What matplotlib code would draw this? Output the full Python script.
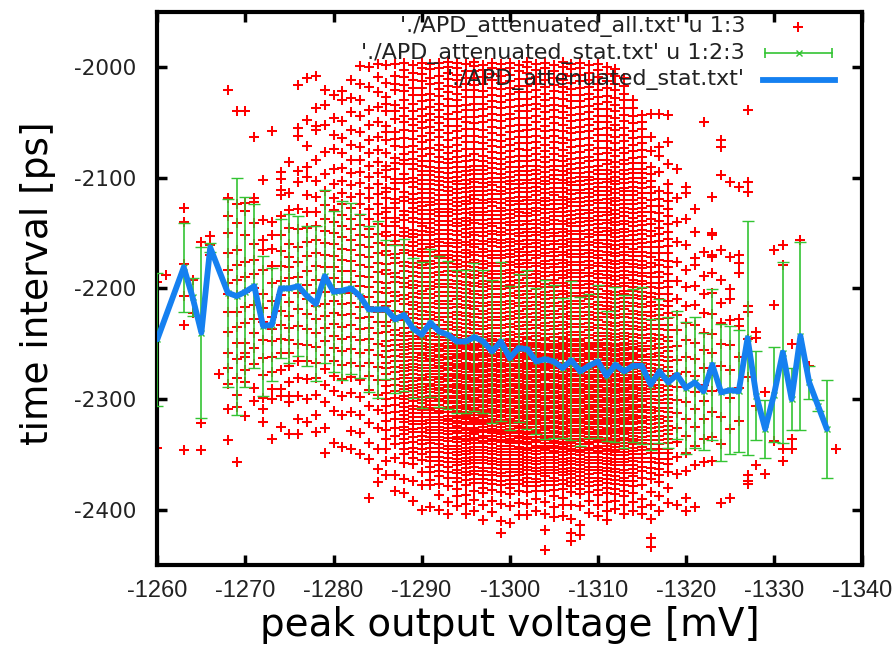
import matplotlib
matplotlib.use('Agg')
import matplotlib.pyplot as plt
from matplotlib.lines import Line2D

# ---------------- data ----------------
# red '+' cloud: one entry per 1 mV column (x = -1260 ... -1337);
# each string lists the points of that column as depth below -2000 ps
all_x = list(range(-1260, -1338, -1))
all_depth = [
    "194 344",                                   # -1260
    "188",                                       # -1261
    "",                                          # -1262
    "127 140 178 207 233 346",                   # -1263
    "192 222",                                   # -1264
    "158 322 346",                               # -1265
    "153 161 170",                               # -1266
    "277",                                       # -1267
    "21 118 135 150 168 183 195 205 221 239 258 272 286 309 337",
    "40 124 141 165 179 192 206 221 235 249 264 281 296 307 357",
    "40 123 130 152 176 190 203 217 231 249 258 262 274 285 315",
    "63 118 122 141 160 174 187 200 215 228 240 254 268 290 302",
    "102 138 156 165 183 205 218 230 247 263 278 299 309 321",
    "58 140 152 164 180 195 211 226 237 248 262 276 291 300 336",
    "95 101 111 116 135 152 166 180 193 206 220 233 246 258 274 291 297 325",
    "86 114 129 145 160 172 181 191 200 212 225 236 247 258 270 285 297 303 332",
    "16 55 62 94 104 128 146 163 176 190 204 219 234 250 266 281 297 318 332",
    "10 48 71 90 99 116 131 145 158 171 184 197 210 223 237 251 266 282 300 321",
    "8 37 53 57 84 103 117 131 144 156 168 180 192 204 216 228 240 253 267 281 296 314 330",
    "21 34 52 77 97 112 125 137 148 159 170 181 192 203 214 225 236 248 260 273 287 303 326 349",
    "25 46 61 74 92 106 118 129 140 150 160 171 181 191 201 211 222 232 243 254 266 279 293 311 340",
    "22 30 49 64 78 91 103 114 124 134 144 154 164 174 184 194 204 214 224 235 246 257 269 282 297 314 343",
    "12 28 41 57 70 84 96 107 117 127 137 146 156 165 175 184 194 204 213 223 233 244 255 267 280 295 312 329 345",
    "-1 15 30 44 59 72 84 95 105 115 124 134 143 152 161 170 179 189 198 207 217 227 237 247 258 270 283 298 314 331 350",
    "0 18 39 52 66 78 89 99 109 118 128 137 146 154 163 172 181 190 199 208 217 226 236 246 256 267 279 292 306 322 340 354 389",
    "-3 9 23 36 50 63 75 86 96 106 115 124 133 142 151 159 168 177 185 194 203 212 221 230 240 250 260 271 283 296 310 326 345 363 375",
    "-2 14 27 40 53 66 78 89 99 109 118 127 136 144 153 161 170 178 187 195 204 212 221 230 239 248 257 267 277 288 300 313 328 345 369",
    "-3 8 21 34 47 59 71 82 92 101 110 119 127 136 144 152 161 169 177 186 194 203 211 220 229 238 247 256 266 276 287 299 312 326 341 369 383",
    # -1288
    "-4 9 22 37 50 64 79 88 97 105 113 121 130 138 145 153 161 168 176 184 191 199 206 214 221 229 236 243 250 256 262 269 275 281 288 294 300 307 314 321 328 336 345 358 372 385",
    "-2 12 25 33 47 58 71 83 92 100 108 115 123 131 140 147 154 162 170 177 185 193 200 208 215 223 231 239 246 252 258 265 271 277 284 290 296 302 309 316 323 330 339 348 359 374 392",
    "-4 6 19 31 44 55 68 80 89 98 106 114 122 129 137 144 152 160 167 175 182 190 198 205 213 220 228 236 244 249 255 260 266 272 278 283 289 295 301 307 313 320 326 333 341 350 366 378 400",
    "-3 10 24 36 48 60 73 85 94 102 110 118 125 133 141 149 156 163 171 178 186 194 201 209 217 224 232 240 247 253 258 264 269 275 280 286 291 297 302 308 313 319 325 331 337 344 352 361 373 378 398",
    "-4 8 20 33 45 57 70 81 91 99 107 116 124 131 139 147 155 162 170 177 185 192 199 207 214 222 229 237 244 250 255 260 265 270 275 280 285 290 295 300 305 311 316 322 328 334 341 348 356 365 377 387 400",
    "-5 5 17 29 42 53 66 78 87 96 104 112 120 128 135 143 151 159 166 173 181 188 196 203 211 218 226 233 241 247 252 257 262 267 272 277 282 287 292 297 302 307 312 318 323 329 335 342 349 357 366 379 393 404",
    # -1294
    "-4 7 18 30 41 53 64 76 86 95 103 110 118 126 133 141 148 156 163 171 178 185 193 200 207 214 221 228 235 242 248 252 257 261 266 270 275 279 284 288 293 297 302 306 311 315 320 324 329 334 339 345 351 357 364 371 381 388 397",
    "-3 10 21 34 45 56 68 80 90 98 106 113 121 128 136 143 150 158 165 172 180 187 194 201 208 215 222 229 236 243 249 253 258 262 267 271 276 280 285 289 294 298 303 307 312 316 321 326 331 336 341 347 353 359 366 373 387 395 404",
    "-5 4 16 27 39 51 62 74 84 93 101 108 116 123 131 138 145 152 160 167 174 181 188 195 202 209 216 223 230 237 244 250 254 259 263 268 272 276 281 285 290 294 299 303 308 312 317 321 326 330 335 340 346 352 358 365 372 383 391 401",
    "-2 9 22 33 44 57 69 80 89 97 105 112 120 127 134 142 149 157 164 171 178 186 193 199 206 213 220 227 234 241 247 251 256 260 265 269 274 278 283 287 292 296 301 305 310 314 319 323 328 333 338 343 349 355 362 369 376 385 396 409",
    "-4 6 19 31 42 54 66 77 87 96 104 111 119 126 134 141 148 155 162 170 177 184 191 198 205 212 219 226 233 240 246 250 255 259 264 268 273 277 282 286 291 295 300 304 309 313 318 322 327 331 336 341 347 353 359 366 373 382 392 402",
    "-3 8 20 32 43 55 67 78 88 97 104 112 119 127 134 141 149 156 163 170 177 184 191 198 205 212 219 226 233 240 247 251 256 260 265 269 274 278 283 287 292 296 301 305 310 314 319 323 328 332 337 342 348 354 360 367 374 384 395 410 421",
    # -1300
    "-4 7 19 30 42 53 65 76 86 95 103 110 118 125 133 140 147 155 162 169 176 183 190 197 204 211 218 225 232 239 246 250 255 259 264 268 273 277 282 286 291 295 300 304 309 313 318 322 327 331 336 340 345 351 357 363 370 377 386 397 412",
    "-2 11 23 35 46 58 69 80 90 98 106 113 121 128 135 143 150 157 164 171 178 185 192 199 206 213 220 227 234 241 248 252 257 261 266 270 275 279 284 288 293 297 302 306 311 315 320 324 329 333 338 343 348 354 360 366 373 383 394 405",
    "-5 5 17 29 40 52 63 75 85 94 102 109 117 124 132 139 146 153 160 167 174 181 188 195 202 209 216 223 230 237 244 249 253 258 262 267 271 276 280 285 289 294 298 303 307 312 316 321 325 330 334 339 344 349 355 361 368 375 384 395 405",
    "-3 9 21 33 44 56 68 79 89 97 105 112 120 127 134 142 149 156 163 170 177 184 191 198 205 212 219 226 233 240 247 251 256 260 265 269 274 278 283 287 292 296 301 305 310 314 319 323 328 332 337 342 347 353 359 365 372 379 390 401",
    "-4 6 18 30 41 53 64 76 86 95 103 110 118 125 132 140 147 154 161 168 175 182 189 196 203 210 217 224 231 238 245 250 254 259 263 268 272 277 281 286 290 295 299 304 308 313 317 322 326 331 335 340 344 349 355 361 367 374 383 393 404 418 436",
    "-2 10 22 34 45 57 68 79 89 98 105 113 120 128 135 142 150 157 164 171 178 185 192 199 206 213 220 227 234 241 248 252 257 261 266 270 275 279 284 288 293 297 302 306 311 315 320 324 329 333 338 342 347 352 358 364 371 378 388 398 407",
    "-5 6 18 29 41 52 64 75 85 94 102 109 117 124 131 139 146 153 160 167 174 181 188 195 202 209 216 223 230 237 244 249 253 258 262 267 271 276 280 285 289 294 298 303 307 312 316 321 325 330 334 339 343 348 354 360 366 373 381 389 396 406",
    "-3 8 20 31 43 55 66 78 88 96 104 111 119 126 134 141 148 155 162 169 176 183 190 197 204 211 218 225 232 239 246 250 255 259 264 268 273 277 282 286 291 295 300 304 309 313 318 322 327 331 336 340 345 350 356 362 368 375 384 396 408 421 428",
    "-4 7 19 31 42 54 65 77 87 96 103 111 118 126 133 140 148 155 162 169 176 183 190 197 204 211 218 225 232 239 246 250 255 259 264 268 273 277 282 286 291 295 300 304 309 313 318 322 327 331 336 341 346 351 357 363 370 377 386 397 414 423",
    "-2 12 24 35 47 58 70 81 90 99 106 114 121 129 136 143 151 158 165 172 179 186 193 200 207 214 221 228 235 242 249 253 258 262 267 271 276 280 285 289 294 298 303 307 312 316 321 325 330 334 339 344 349 355 361 368 375 384 392 403",
    # -1310
    "-3 9 21 33 44 56 67 79 89 97 105 112 120 127 135 142 149 156 163 170 177 184 191 198 205 212 219 226 233 240 247 251 256 260 265 269 274 278 283 287 292 296 301 305 310 314 319 323 328 332 337 342 347 352 358 364 371 378 387 396 406",
    "0 13 26 38 50 61 73 84 93 101 108 116 123 131 138 145 152 160 167 174 181 188 195 202 209 216 223 230 237 243 249 254 258 263 267 272 276 281 285 290 294 299 303 308 312 317 321 326 330 335 340 345 350 356 362 369 376 385 393 401 409",
    "2 15 28 40 52 63 75 86 95 103 110 118 125 133 140 147 154 161 168 175 182 189 196 203 210 217 224 231 238 244 250 255 259 264 268 273 277 282 286 291 295 300 304 309 313 318 322 327 331 336 341 346 351 357 363 370 377 386 392 399",
    "10 24 37 49 61 73 84 93 101 109 116 124 131 139 146 153 160 167 174 181 188 195 202 209 216 223 230 237 243 249 254 258 263 267 272 276 281 285 290 294 299 303 308 312 317 321 326 330 335 340 345 351 357 364 371 378 388 396 404",
    "30 44 58 70 82 92 100 108 116 124 132 140 148 156 164 171 178 185 192 199 206 213 220 227 234 241 248 253 258 262 267 271 276 280 285 289 294 298 303 307 312 316 321 326 331 336 341 347 353 360 367 374 385 393 401",
    "43 56 63 75 87 96 105 114 123 131 139 147 155 163 171 179 186 193 200 207 214 221 228 235 242 249 255 260 265 270 275 280 285 290 295 300 305 310 315 320 325 331 337 343 350 357 365 378 390 398 404",
    "42 63 76 90 103 114 126 137 148 158 168 177 186 195 204 212 221 229 237 245 252 259 265 272 278 285 291 297 304 310 316 323 330 337 345 353 362 372 384 396 408 426 434",
    "42 72 80 95 112 126 139 151 163 174 185 195 205 215 224 233 242 250 258 265 273 280 287 294 301 308 315 322 329 337 345 354 363 375 388 401",
    "43 68 88 106 121 135 149 162 175 187 199 211 222 233 244 253 262 271 279 288 296 304 312 320 328 336 345 354 366 380 394",
    "92 118 140 158 176 193 210 224 238 252 265 277 289 301 313 326 339 352 368 396",
    # -1320
    "108 114 137 161 183 199 216 231 247 262 276 289 303 318 333 349 365 389 401",
    "128 149 173 179 198 215 233 249 264 279 294 309 325 342 360 398",
    "50 167 189 205 222 240 256 272 287 302 318 336 357",
    "117 150 152 170 172 186 204 223 241 258 275 293 312 334 356",
    "66 72 98 165 192 213 231 250 270 292 316 341 394",
    "104 172 201 210 229 251 274 299 327 389",
    "108 170 177 186 228 234 262 290 320",
    "39 104 113 216 221 246 280 369 374 377",
    "239 245 306 360",
    "294 368",
    # -1330
    "165 215 338",
    "161 179 345 356",
    "250 336 345",
    "156",
    "270",
    "",
    "",
    "345",
]

# further points of the crowded core columns (x = -1286 ... -1318)
extra_x = list(range(-1286, -1319, -1))
extra_depth = [
    "33 59 93 113 131 149 166 183 200 216 234 252 262 272 283 295 306 320 336 356",
    "15 40 65 87 105 123 140 157 173 190 207 225 242 251 261 271 282 293 305 318 333 353",
    "3 16 30 44 57 72 84 101 117 134 149 165 180 195 210 225 240 247 253 259 266 272 278 285 291 297 304 311 318 325 332 340 350",
    "5 19 40 52 65 77 88 104 119 127 136 151 158 166 181 189 197 204 212 219 227 235 243 249 255 262 268 274 281 287 293 299 306 313 320 327 334 344 353",
    "1 13 25 38 50 62 74 85 94 102 110 118 126 133 141 148 156 164 171 179 186 194 202 209 217 224 232 240 246 252 258 263 269 275 281 286 292 298 304 310 316 323 330 337 345 355",
    "2 15 30 42 54 66 79 90 98 106 114 122 129 137 145 152 160 167 175 182 190 198 205 213 221 228 236 243 250 256 261 266 272 277 283 288 294 299 305 310 316 322 328 334 340 348 356 366",
    "1 14 26 39 51 63 75 86 95 103 111 120 128 135 143 151 158 166 173 181 188 196 203 211 218 226 233 241 247 252 257 262 267 272 277 282 287 292 297 302 308 313 319 325 331 337 344 352 360 370",
    "0 11 23 35 47 60 72 83 91 100 108 116 124 131 139 147 155 162 170 177 184 192 199 207 214 222 230 237 244 249 254 259 264 269 274 279 284 289 294 299 304 309 315 320 326 332 338 345 353 361 371",
    "1 12 24 35 47 58 70 81 90 99 106 114 122 129 137 144 152 159 167 174 181 189 196 203 210 217 224 231 238 245 250 254 259 263 268 272 277 281 286 290 295 299 304 308 313 317 322 326 331 336 342 348 354 360 367 375",
    "4 15 27 39 50 62 74 85 94 102 109 117 124 132 139 146 154 161 168 176 183 190 197 204 211 218 225 232 239 246 251 255 260 264 269 273 278 282 287 291 296 300 305 309 314 318 323 328 333 338 344 350 356 362 369 378",
    "-1 10 21 33 45 56 68 79 89 97 104 112 119 127 134 141 149 156 163 170 177 184 191 198 205 212 219 226 233 240 247 252 256 261 265 270 274 278 283 287 292 296 301 305 310 314 319 323 328 332 337 343 349 355 361 368 376",
    "3 15 27 38 50 63 74 85 93 101 108 116 123 131 138 145 153 160 167 175 182 189 196 202 209 216 223 230 237 244 249 253 258 262 267 271 276 280 285 289 294 298 303 307 312 316 321 325 330 335 340 346 352 358 365 372 380",
    "1 12 25 36 48 60 71 82 91 100 107 115 122 130 137 144 151 158 166 173 180 187 194 201 208 215 222 229 236 243 248 252 257 261 266 270 275 279 284 288 293 297 302 306 311 315 320 324 329 333 338 344 350 356 362 369 377",
    "2 14 26 37 49 61 72 83 92 100 108 115 123 130 137 145 152 159 166 173 180 187 194 201 208 215 222 229 236 243 249 253 258 262 267 271 276 280 285 289 294 298 303 307 312 316 321 325 330 334 339 345 351 357 363 370 378",
    "1 13 24 36 47 59 70 81 90 99 106 114 121 129 136 143 151 158 165 172 179 186 193 200 207 214 221 228 235 242 248 252 257 261 266 270 275 279 284 288 293 297 302 306 311 315 320 324 329 333 338 342 348 354 360 366 373 380",
    "4 17 29 40 52 63 74 85 94 102 109 117 124 131 139 146 153 160 167 174 181 188 195 202 209 216 223 230 237 244 250 254 259 263 268 272 277 281 286 290 295 299 304 308 313 317 322 326 331 335 340 345 351 357 363 369 377",
    "0 11 23 34 46 57 69 80 89 98 105 113 120 128 135 142 149 156 163 170 177 184 191 198 205 212 219 226 233 240 246 251 255 260 264 269 273 278 282 287 291 296 300 305 309 314 318 323 327 332 336 341 346 352 358 364 371 379",
    "3 15 27 38 50 62 73 84 93 101 108 116 123 130 138 145 152 159 166 173 180 187 194 201 208 215 222 229 236 243 249 253 258 262 267 271 276 280 285 289 294 298 303 307 312 316 321 325 330 334 339 344 350 356 362 368 375 383",
    "1 12 24 35 47 58 70 81 90 99 106 114 121 128 136 143 150 157 164 171 178 185 192 199 206 213 220 227 234 241 247 252 256 261 265 270 274 279 283 288 292 297 301 306 310 315 319 324 328 333 337 342 346 352 358 364 370 378",
    "4 16 28 39 51 62 73 84 93 101 109 116 124 131 138 146 153 160 167 174 181 188 195 202 209 216 223 230 237 244 250 254 259 263 268 272 277 281 286 290 295 299 304 308 313 317 322 326 331 335 340 344 349 355 361 367 374 382",
    "0 12 23 35 46 58 69 80 89 98 105 113 120 127 135 142 149 156 163 170 177 184 191 198 205 212 219 226 233 240 246 251 255 260 264 269 273 278 282 287 291 296 300 305 309 314 318 323 327 332 336 341 345 351 357 363 369 377",
    "2 14 25 37 49 60 72 83 92 100 107 115 122 130 137 144 151 158 165 172 179 186 193 200 207 214 221 228 235 242 248 252 257 261 266 270 275 279 284 288 293 297 302 306 311 315 320 324 329 333 338 342 347 353 359 365 371 379",
    "1 13 25 36 48 59 71 82 91 99 107 114 122 129 136 144 151 158 165 172 179 186 193 200 207 214 221 228 235 242 248 252 257 261 266 270 275 279 284 288 293 297 302 306 311 315 320 324 329 333 338 343 348 354 360 366 373 381",
    "5 18 29 41 52 64 75 85 95 102 110 117 125 132 139 147 154 161 168 175 182 189 196 203 210 217 224 231 238 245 251 255 260 264 269 273 278 282 287 291 296 300 305 309 314 318 323 327 332 336 341 346 352 358 364 371 379",
    "3 15 27 38 50 61 73 84 93 101 108 116 123 131 138 145 152 159 166 173 180 187 194 201 208 215 222 229 236 243 249 253 258 262 267 271 276 280 285 289 294 298 303 307 312 316 321 325 330 334 339 344 349 355 361 367 374 382",
    "6 19 32 44 55 67 78 88 97 104 112 119 127 134 141 148 156 163 170 177 184 191 198 205 212 219 226 233 240 246 251 256 260 265 269 274 278 283 287 292 296 301 305 310 314 319 323 328 332 337 342 347 353 359 365 372 380",
    "8 21 34 46 57 69 80 90 99 106 114 121 129 136 143 150 157 164 171 178 185 192 199 206 213 220 227 234 241 247 252 257 261 266 270 275 279 284 288 293 297 302 306 311 315 320 324 329 333 338 343 348 354 360 366 373 381",
    "17 30 43 55 67 78 88 97 105 112 120 127 135 142 149 156 163 170 177 184 191 198 205 212 219 226 233 240 246 251 256 260 265 269 274 278 283 287 292 296 301 305 310 314 319 323 328 332 337 342 348 354 360 367 374 383",
    "37 51 64 76 87 96 104 112 120 128 136 144 152 160 167 174 181 188 195 202 209 216 223 230 237 244 250 255 260 264 269 273 278 282 287 291 296 300 305 309 314 318 323 328 333 338 344 350 356 363 370 379",
    "50 69 81 92 100 109 118 127 135 143 151 159 167 175 182 189 196 203 210 217 224 231 238 245 252 257 262 267 272 277 282 287 292 297 302 307 312 317 322 328 334 340 346 353 361 371",
    "97 108 120 131 142 153 163 172 181 190 199 208 216 225 233 241 248 255 262 268 275 281 288 294 300 307 313 319 326 333 341 349 357 367",
    "119 132 145 157 168 179 190 200 210 219 228 237 246 254 261 269 276 283 290 297 304 311 318 325 333 341 349 358 369",
    "114 128 142 155 168 181 193 205 216 227 238 248 257 266 275 283 292 300 308 316 324 332 340 349 359",
]

# statistics file: mean and spread for each column
stat_x = [-1260, -1263, -1264, -1265, -1266] + list(range(-1268, -1337, -1))
stat_mean = [-2246, -2181, -2208, -2240, -2163,
             -2204, -2207, -2203, -2198, -2234, -2233, -2200, -2200, -2198, -2207,
             -2214, -2189, -2203, -2202, -2200, -2207, -2219, -2219, -2219, -2228,
             -2224, -2236, -2242, -2231, -2239, -2242, -2248, -2248, -2244, -2248,
             -2257, -2248, -2263, -2254, -2255, -2266, -2264, -2266, -2272, -2265,
             -2275, -2270, -2266, -2279, -2269, -2275, -2270, -2270, -2287, -2275,
             -2285, -2278, -2290, -2285, -2293, -2269, -2294, -2292, -2293, -2245,
             -2297, -2327, -2296, -2258, -2300, -2243, -2285, -2306, -2327]
stat_err = [60, 40, 17, 77, 4,
            85, 107, 86, 74, 63, 51, 63, 67, 63, 63,
            70, 78, 73, 81, 77, 74, 75, 80, 63, 67,
            69, 63, 66, 67, 68, 67, 65, 65, 67, 65,
            65, 72, 65, 67, 72, 66, 72, 69, 63, 72,
            67, 65, 69, 59, 70, 69, 69, 71, 59, 65,
            59, 58, 60, 59, 53, 68, 62, 58, 55, 106,
            40, 26, 43, 82, 28, 85, 15, 5, 44]

legend_labels = ["'./APD_attenuated_all.txt' u 1:3",
                 "'./APD_attenuated_stat.txt' u 1:2:3",
                 "'./APD_attenuated_stat.txt'"]
x_ticks = list(range(-1260, -1341, -10))
y_ticks = [-2400, -2300, -2200, -2100, -2000]

# ---------------- drawing ----------------
RED = '#ff0000'
GREEN = '#33c433'
BLUE = '#1580f0'
plt.rcParams['font.family'] = ['DejaVu Sans']
plt.rcParams['axes.unicode_minus'] = False

fig = plt.figure(figsize=(8.95, 6.47), dpi=100)
ax = fig.add_axes([0.1758, 0.1267, 0.7874, 0.8552])

xs, ys = [], []
for x, s in list(zip(all_x, all_depth)) + list(zip(extra_x, extra_depth)):
    for v in s.split():
        xs.append(x)
        ys.append(-2000 - int(v))

ax.plot(xs, ys, ls='none', marker='+', ms=7.8, mew=1.45, color=RED, zorder=2)
ax.errorbar(stat_x, stat_mean, yerr=stat_err, fmt='x', ms=5, mew=1.0,
            color=GREEN, ecolor=GREEN, elinewidth=1.2, capsize=4, capthick=1.2,
            zorder=3)
ax.plot(stat_x, stat_mean, color=BLUE, lw=4.2, zorder=4,
        solid_joinstyle='round', solid_capstyle='round')

ax.set_xlim(-1260, -1340)
ax.set_ylim(-2450, -1950)
ax.set_xticks(x_ticks)
ax.set_yticks(y_ticks)
ax.tick_params(direction='in', length=7, width=2.5, top=True, right=True,
               colors='black', labelcolor='#222222')
ax.tick_params(axis='x', labelsize=17, pad=11)
ax.tick_params(axis='y', labelsize=15.5, pad=15)
for lab in ax.get_xticklabels():
    lab.set_fontfamily(['Liberation Sans', 'DejaVu Sans'])
for sp in ax.spines.values():
    sp.set_linewidth(3)

ax.set_xlabel('peak output voltage [mV]', fontsize=28, va='center')
ax.xaxis.set_label_coords(0.5, -0.108)
ax.set_ylabel('time interval [ps]', fontsize=27, va='center')
ax.yaxis.set_label_coords(-0.170, 0.51)

# key (top right, gnuplot style: right-aligned text, sample on the right)
rows = [0.973, 0.925, 0.877]
for r, lab in zip(rows, legend_labels):
    ax.text(0.834, r, lab, transform=ax.transAxes, ha='right', va='center',
            fontsize=16, color='#222222', zorder=6)
ax.add_line(Line2D([0.909], [rows[0]], transform=ax.transAxes, ls='none',
                   marker='+', ms=7.8, mew=1.45, color=RED, clip_on=False, zorder=6))
ax.add_line(Line2D([0.862, 0.958], [rows[1], rows[1]], transform=ax.transAxes,
                   color=GREEN, lw=1.2, clip_on=False, zorder=6))
ax.add_line(Line2D([0.862, 0.958], [rows[1], rows[1]], transform=ax.transAxes,
                   ls='none', marker='|', ms=7, mew=1.2, color=GREEN,
                   clip_on=False, zorder=6))
ax.add_line(Line2D([0.910], [rows[1]], transform=ax.transAxes, ls='none',
                   marker='x', ms=5, mew=1.0, color=GREEN, clip_on=False, zorder=6))
ax.add_line(Line2D([0.859, 0.961], [rows[2], rows[2]], transform=ax.transAxes,
                   color=BLUE, lw=4.2, clip_on=False, zorder=6))

fig.savefig('out.png', dpi=100)
